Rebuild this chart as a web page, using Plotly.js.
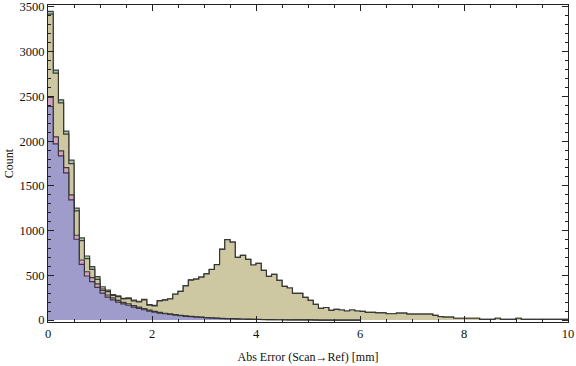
<!DOCTYPE html>
<html>
<head>
<meta charset="utf-8">
<script src="https://cdn.plot.ly/plotly-3.0.1.min.js"></script>
<style>html,body{margin:0;padding:0;background:#fff;}#chart{width:576px;height:366px;}</style>
</head>
<body>
<div id="chart"></div>
<script>
// Histogram bins: width 0.1 mm, starting at 0
const binStart = 0;
const binWidth = 0.1;

// Series counts per bin
const greenCounts = [3450,2794,2462,2111,1787,1250,918,716,597,485,
  372,335,285,270,243,248,222,210,232,172,
  163,218,226,238,290,322,384,448,459,481,
  517,567,621,793,900,872,701,722,679,615,
  634,556,488,511,444,376,358,298,298,254,
  220,176,131,140,108,120,112,101,112,101,
  97,86,86,80,80,70,70,78,78,67,
  67,67,67,67,52,39,33,33,20,20,
  20,20,20,8,8,8,20,8,8,8,
  20,8,8,8,8,8,8,8,8,8];

const khakiCounts = [3420,2760,2428,2078,1749,1220,887,686,567,455,
  347,318,275,261,235,240,215,203,224,166,
  157,213,222,235,288,320,382,446,457,479,
  515,565,619,791,900,872,701,722,679,615,
  634,556,488,511,444,376,358,298,298,254,
  220,176,131,140,108,120,112,101,112,101,
  97,86,86,80,80,70,70,78,78,67,
  67,67,67,67,52,39,33,33,20,20,
  20,20,20,8,8,8,20,8,8,8,
  20,8,8,8,8,8,8,8,8,8];

const pinkCounts = [2488,2048,1891,1704,1399,948,671,540,475,405,
  330,280,248,220,198,182,160,145,128,110,
  96,85,76,68,60,52,46,41,36,32,
  28,25,22,19,17,15,13,11,10,8,
  7,6,5,4,3,3,2,2,1,1,
  1,1,0,0,0,0,0,0,0,0];

const blueCounts = [2387,1970,1835,1645,1343,903,623,492,430,365,
  300,255,225,200,180,165,145,130,115,100,
  88,78,70,62,55,48,42,37,33,29,
  25,22,19,16,14,12,10,9,8,7,
  6,5,4,3,3,2,2,1,1,1,
  1,0,0,0,0,0,0,0,0,0];

const xTickVals = [0,2,4,6,8,10];
const yTickVals = [0,500,1000,1500,2000,2500,3000,3500];

function stepTrace(counts, fill) {
  const x = [], y = [];
  counts.forEach((c, i) => { x.push(binStart + i * binWidth); y.push(c); });
  x.push(binStart + counts.length * binWidth);
  y.push(counts[counts.length - 1]);
  return {
    type: 'scatter', mode: 'lines', x: x, y: y,
    line: {shape: 'hv', color: 'rgba(45,45,45,0.9)', width: 1.2},
    fill: 'tozeroy', fillcolor: fill, hoverinfo: 'skip', showlegend: false
  };
}

const data = [
  stepTrace(greenCounts, '#a5c8a8'),
  stepTrace(khakiCounts, '#cdc8a1'),
  stepTrace(pinkCounts, '#d3a3c3'),
  stepTrace(blueCounts, '#9f9ccc')
];

const fontFam = '"Liberation Serif", "DejaVu Serif", serif';
const layout = {
  width: 576, height: 366,
  margin: {l: 48, r: 8, t: 5, b: 44},
  paper_bgcolor: '#fff', plot_bgcolor: '#fff',
  font: {family: fontFam, size: 12, color: '#111'},
  xaxis: {
    range: [0, 10], tickvals: xTickVals, ticktext: xTickVals.map(String),
    ticks: 'inside', ticklen: 6, tickcolor: '#222', tickwidth: 1,
    tickfont: {family: fontFam, size: 12.5, color: '#111'},
    minor: {dtick: 0.5, tick0: 0, ticks: 'inside', ticklen: 3, tickcolor: '#222', showgrid: false},
    showline: true, linecolor: '#222', linewidth: 1, mirror: 'ticks',
    showgrid: false, zeroline: false,
    title: {text: 'Abs Error (Scan→Ref) [mm]', font: {family: fontFam, size: 12, color: '#111'}, standoff: 12}
  },
  yaxis: {
    range: [-22, 3522], tickvals: yTickVals, ticktext: yTickVals.map(String),
    ticks: 'inside', ticklen: 6, tickcolor: '#222', tickwidth: 1,
    tickfont: {family: fontFam, size: 12.5, color: '#111'},
    minor: {dtick: 100, tick0: 0, ticks: 'inside', ticklen: 3, tickcolor: '#222', showgrid: false},
    showline: true, linecolor: '#222', linewidth: 1, mirror: 'ticks',
    showgrid: false, zeroline: false,
    title: {text: 'Count', font: {family: fontFam, size: 12, color: '#111'}, standoff: 3}
  }
};

Plotly.newPlot('chart', data, layout, {staticPlot: true, displayModeBar: false});
</script>
</body>
</html>
